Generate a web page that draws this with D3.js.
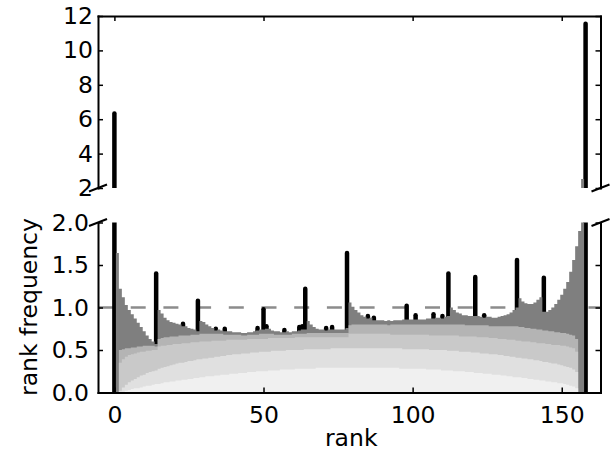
<!DOCTYPE html>
<html><head><meta charset="utf-8">
<script src="https://cdn.jsdelivr.net/npm/d3@7"></script>
<style>body{margin:0;background:#fff}</style>
</head><body>
<svg id="c" width="616" height="461"></svg>
<script>
// rank frequency per rank (index = rank 0..158), five overlaid step histograms
const layer1 = [
0,1.64,1.22,1.12,1.03,0.97,0.92,0.87,0.82,0.77,
0.72,0.67,0.63,0.60,0.57,0.97,0.93,0.88,0.85,0.83,
0.82,0.81,0.80,0.78,0.78,0.76,0.75,0.74,0.72,0.84,
0.83,0.80,0.78,0.76,0.73,0.74,0.73,0.72,0.72,0.72,
0.71,0.71,0.71,0.70,0.70,0.71,0.71,0.72,0.73,0.74,
0.74,0.75,0.75,0.73,0.72,0.72,0.71,0.71,0.72,0.71,
0.72,0.72,0.73,0.74,0.74,0.84,0.80,0.77,0.75,0.74,
0.74,0.73,0.74,0.74,0.74,0.74,0.74,0.74,0.76,1.06,
1.01,0.97,0.94,0.91,0.89,0.87,0.88,0.85,0.85,0.85,
0.85,0.84,0.85,0.84,0.85,0.85,0.85,0.86,0.86,0.86,
0.86,0.86,0.86,0.86,0.86,0.87,0.87,0.87,0.88,0.88,
0.87,0.89,0.90,1.00,0.97,0.94,0.93,0.91,0.91,0.90,
0.90,0.90,0.90,0.89,0.88,0.89,0.89,0.88,0.88,0.89,
0.90,0.91,0.92,0.94,0.97,1.00,1.11,1.07,1.05,1.04,
1.04,1.06,1.09,1.12,0.95,0.95,0.97,1.00,1.04,1.09,
1.15,1.22,1.30,1.42,1.56,1.72,1.90,2.53,0];
const layer2 = [
0,0,0.50,0.51,0.52,0.52,0.53,0.53,0.54,0.54,
0.55,0.55,0.55,0.55,0.54,0.63,0.64,0.65,0.65,0.66,
0.66,0.66,0.67,0.67,0.67,0.67,0.68,0.68,0.68,0.69,
0.69,0.69,0.69,0.69,0.69,0.69,0.69,0.68,0.68,0.68,
0.68,0.68,0.68,0.67,0.67,0.68,0.68,0.68,0.68,0.69,
0.69,0.69,0.69,0.69,0.68,0.68,0.68,0.68,0.68,0.68,
0.69,0.69,0.69,0.69,0.69,0.70,0.70,0.70,0.70,0.70,
0.70,0.70,0.70,0.70,0.70,0.70,0.70,0.70,0.70,0.79,
0.80,0.80,0.80,0.80,0.80,0.80,0.80,0.80,0.80,0.80,
0.80,0.80,0.79,0.80,0.80,0.80,0.80,0.80,0.80,0.80,
0.80,0.80,0.80,0.80,0.80,0.80,0.80,0.80,0.80,0.80,
0.80,0.80,0.80,0.80,0.80,0.80,0.80,0.80,0.79,0.79,
0.79,0.79,0.79,0.79,0.79,0.79,0.78,0.78,0.78,0.78,
0.78,0.78,0.78,0.78,0.78,0.78,0.77,0.77,0.76,0.76,
0.75,0.75,0.74,0.74,0.73,0.73,0.72,0.72,0.71,0.71,
0.70,0.70,0.69,0.68,0.67,0.63,0,0,0];
const layer3 = [
0,0,0.35,0.39,0.42,0.44,0.45,0.46,0.47,0.48,
0.48,0.49,0.49,0.50,0.50,0.54,0.55,0.55,0.56,0.56,
0.57,0.57,0.57,0.58,0.58,0.58,0.59,0.59,0.59,0.60,
0.60,0.60,0.60,0.61,0.61,0.61,0.61,0.61,0.62,0.62,
0.62,0.62,0.62,0.62,0.62,0.63,0.63,0.63,0.63,0.63,
0.63,0.63,0.64,0.64,0.64,0.64,0.64,0.64,0.64,0.64,
0.64,0.65,0.65,0.65,0.65,0.65,0.65,0.65,0.65,0.65,
0.65,0.65,0.65,0.65,0.65,0.65,0.65,0.65,0.65,0.69,
0.69,0.69,0.69,0.69,0.69,0.69,0.69,0.69,0.69,0.69,
0.69,0.69,0.69,0.68,0.68,0.68,0.68,0.68,0.68,0.68,
0.68,0.68,0.68,0.68,0.68,0.68,0.67,0.67,0.67,0.67,
0.67,0.67,0.67,0.67,0.67,0.67,0.66,0.66,0.66,0.66,
0.66,0.66,0.65,0.65,0.65,0.65,0.64,0.64,0.64,0.63,
0.63,0.63,0.62,0.62,0.62,0.61,0.61,0.60,0.60,0.60,
0.59,0.59,0.58,0.58,0.58,0.57,0.57,0.56,0.56,0.56,
0.55,0.55,0.54,0.53,0.52,0.48,0,0,0];
const layer4 = [
0,0,0.02,0.06,0.09,0.12,0.14,0.16,0.18,0.20,
0.21,0.23,0.24,0.25,0.26,0.28,0.29,0.30,0.31,0.32,
0.33,0.34,0.35,0.35,0.36,0.37,0.37,0.38,0.39,0.39,
0.40,0.40,0.41,0.41,0.42,0.42,0.43,0.43,0.44,0.44,
0.45,0.45,0.45,0.46,0.46,0.46,0.47,0.47,0.47,0.48,
0.48,0.48,0.48,0.49,0.49,0.49,0.49,0.49,0.50,0.50,
0.50,0.50,0.50,0.50,0.51,0.51,0.51,0.51,0.51,0.51,
0.51,0.51,0.51,0.52,0.52,0.52,0.52,0.52,0.52,0.52,
0.52,0.52,0.52,0.52,0.52,0.52,0.52,0.52,0.52,0.52,
0.52,0.52,0.52,0.52,0.52,0.52,0.52,0.51,0.51,0.51,
0.51,0.51,0.51,0.51,0.51,0.51,0.50,0.50,0.50,0.50,
0.50,0.50,0.49,0.49,0.49,0.49,0.48,0.48,0.48,0.48,
0.47,0.47,0.47,0.46,0.46,0.46,0.45,0.45,0.45,0.44,
0.44,0.43,0.43,0.42,0.42,0.41,0.41,0.40,0.40,0.39,
0.39,0.38,0.38,0.37,0.36,0.36,0.35,0.34,0.34,0.33,
0.32,0.31,0.30,0.29,0.27,0.24,0,0,0];
const layer5 = [
0,0,0.00,0.01,0.02,0.03,0.04,0.05,0.05,0.06,
0.07,0.08,0.08,0.09,0.10,0.10,0.11,0.12,0.12,0.13,
0.13,0.14,0.14,0.15,0.15,0.16,0.16,0.17,0.17,0.18,
0.18,0.19,0.19,0.19,0.20,0.20,0.21,0.21,0.21,0.22,
0.22,0.22,0.23,0.23,0.23,0.24,0.24,0.24,0.25,0.25,
0.25,0.25,0.26,0.26,0.26,0.26,0.27,0.27,0.27,0.27,
0.27,0.28,0.28,0.28,0.28,0.28,0.28,0.28,0.29,0.29,
0.29,0.29,0.29,0.29,0.29,0.29,0.29,0.29,0.29,0.29,
0.29,0.29,0.29,0.29,0.29,0.29,0.29,0.29,0.29,0.29,
0.29,0.29,0.29,0.29,0.29,0.29,0.28,0.28,0.28,0.28,
0.28,0.28,0.28,0.28,0.28,0.27,0.27,0.27,0.27,0.27,
0.26,0.26,0.26,0.26,0.25,0.25,0.25,0.25,0.24,0.24,
0.24,0.23,0.23,0.23,0.22,0.22,0.22,0.21,0.21,0.21,
0.20,0.20,0.19,0.19,0.18,0.18,0.18,0.17,0.17,0.16,
0.16,0.15,0.15,0.14,0.14,0.13,0.13,0.12,0.12,0.11,
0.11,0.10,0.09,0.08,0.07,0.05,0,0,0];

// black series: ranks where it rises above the grey envelope
const spikeRanks  = [0,14,23,28,34,37,48,50,51,57,62,63,64,71,73,78,85,87,98,101,107,110,112,121,124,135,144,158];
const spikeValues = [6.33,1.40,0.81,1.08,0.75,0.75,0.76,0.98,0.78,0.735,0.77,0.78,1.22,0.76,0.77,1.64,0.90,0.88,1.02,0.91,0.92,0.90,1.40,1.36,0.91,1.56,1.35,11.55];

const reference = 1.0;
const xTicks = [0,50,100,150];
const topTicks = [2,4,6,8,10,12];
const bottomTicks = [0,0.5,1.0,1.5,2.0];
const layers = [layer1,layer2,layer3,layer4,layer5];
const layerColors = ["#7f7f7f","#b4b4b4","#c9c9c9","#e0e0e0","#f0f0f0"];
const FS = 23.5;

const svg = d3.select("#c");
const L = 98, R = 600.5;
const x = d3.scaleLinear().domain([-5.5,163]).range([L,R]);
const yTop = d3.scaleLinear().domain([2,12]).range([188,16]);
const yBot = d3.scaleLinear().domain([0,2]).range([392.5,222.5]);

const defs = svg.append("defs");
defs.append("clipPath").attr("id","clipTop").append("rect")
  .attr("x",L).attr("y",yTop(12)).attr("width",R-L).attr("height",yTop(2)-yTop(12));
defs.append("clipPath").attr("id","clipBot").append("rect")
  .attr("x",L).attr("y",yBot(2)).attr("width",R-L).attr("height",yBot(0)-yBot(2));

function drawPanel(y, clipId, withRef){
  const g = svg.append("g").attr("clip-path",`url(#${clipId})`);
  if (withRef){
    g.append("line").attr("x1",L).attr("x2",R).attr("y1",y(reference)).attr("y2",y(reference))
      .attr("stroke","#8c8c8c").attr("stroke-width",2.6).attr("stroke-dasharray","15,17.7");
  }
  g.selectAll("line.spike").data(spikeRanks.map((r,i)=>[r,spikeValues[i]])).enter()
    .append("line").attr("class","spike")
    .attr("x1",d=>x(d[0])).attr("x2",d=>x(d[0]))
    .attr("y1",y(0)+10).attr("y2",d=>y(d[1]))
    .attr("stroke","#000").attr("stroke-width",4.5).attr("stroke-linecap","round");
  const area = d3.area().x(d=>x(d[0])).y0(y(0)+10).y1(d=>y(d[1]));
  layers.forEach((vals,k)=>{
    const pts = vals.flatMap((v,r)=>[[r-0.5,v],[r+0.5,v]]);
    g.append("path").attr("d",area(pts)).attr("fill",layerColors[k]);
  });
}
drawPanel(yTop,"clipTop",false);
drawPanel(yBot,"clipBot",true);

function style(g){
  g.attr("font-family","DejaVu Sans, sans-serif").attr("font-size",FS);
  g.select(".domain").attr("stroke","#000").attr("stroke-width",2).attr("stroke-linecap","square");
  g.selectAll(".tick line").attr("stroke","#000").attr("stroke-width",1.5);
  g.selectAll(".tick text").attr("fill","#000");
}
// bottom panel axes
svg.append("g").attr("transform",`translate(0,${yBot(0)})`)
  .call(d3.axisBottom(x).tickValues(xTicks).tickSizeInner(-5).tickSizeOuter(0).tickPadding(14)).call(style);
svg.append("g").attr("transform",`translate(${L},0)`)
  .call(d3.axisLeft(yBot).tickValues(bottomTicks).tickFormat(d3.format(".1f")).tickSizeInner(-5).tickSizeOuter(0).tickPadding(9)).call(style);
svg.append("g").attr("transform",`translate(${R},0)`)
  .call(d3.axisRight(yBot).tickValues(bottomTicks).tickFormat("").tickSizeInner(-5).tickSizeOuter(0)).call(style);
// top panel axes
svg.append("g").attr("transform",`translate(0,${yTop(12)})`)
  .call(d3.axisTop(x).tickValues(xTicks).tickFormat("").tickSizeInner(-5).tickSizeOuter(0)).call(style);
svg.append("g").attr("transform",`translate(${L},0)`)
  .call(d3.axisLeft(yTop).tickValues(topTicks).tickFormat(d3.format("d")).tickSizeInner(-5).tickSizeOuter(0).tickPadding(5)).call(style);
svg.append("g").attr("transform",`translate(${R},0)`)
  .call(d3.axisRight(yTop).tickValues(topTicks).tickFormat("").tickSizeInner(-5).tickSizeOuter(0)).call(style);

// break marks
[[L,yTop(2)],[R,yTop(2)],[L,yBot(2)],[R,yBot(2)]].forEach(([cx,cy])=>{
  svg.append("line").attr("x1",cx-9).attr("y1",cy+3.5).attr("x2",cx+9).attr("y2",cy-3.5)
    .attr("stroke","#000").attr("stroke-width",2);
});

// labels
svg.append("text").attr("x",(L+R)/2+2).attr("y",446).attr("text-anchor","middle")
  .attr("font-family","DejaVu Sans, sans-serif").attr("font-size",FS).text("rank");
svg.append("text").attr("transform","translate(37,307) rotate(-90)").attr("text-anchor","middle")
  .attr("font-family","DejaVu Sans, sans-serif").attr("font-size",FS).text("rank frequency");
</script>
</body></html>
